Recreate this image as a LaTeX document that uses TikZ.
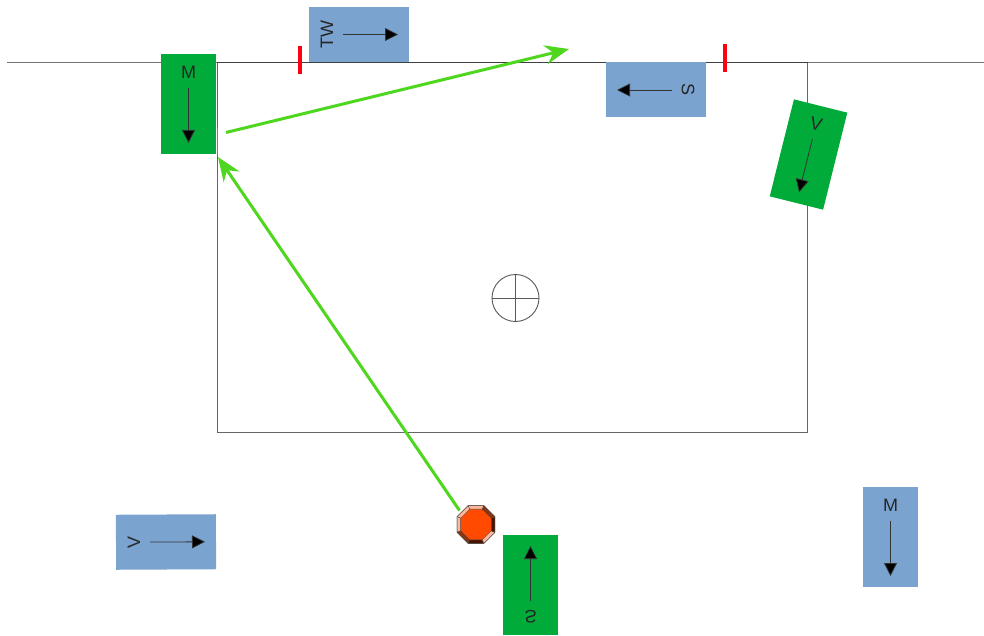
\documentclass[tikz,border=0pt]{standalone}
\usepackage{fontspec}
\setmainfont{Liberation Sans}
\usetikzlibrary{arrows.meta,shapes.geometric}
\definecolor{signgreen}{HTML}{00AB3A}
\definecolor{signblue}{HTML}{7AA3D0}
\definecolor{linegreen}{HTML}{4FD61E}
\definecolor{tickred}{HTML}{FF0010}
\definecolor{bevlight}{HTML}{FFB79C}
\definecolor{bevmid}{HTML}{8C3410}
\definecolor{bevdark}{HTML}{481400}
\definecolor{bevcore}{HTML}{FF4A00}
\tikzset{
  signbox/.style={minimum width=55pt,minimum height=100pt,inner sep=0pt,draw=none},
  signtext/.style={font=\fontsize{18pt}{20pt}\selectfont,text=black!85,inner sep=0pt},
  signarrow/.style={draw=black!80,line width=0.8pt,-{Triangle[length=13pt,width=13pt,fill=black]}},
  flow/.style={draw=linegreen,line width=3pt,-{Stealth[length=24pt,width=19pt,inset=8pt,fill=linegreen]}},
  rule/.style={line width=1pt},
  tick/.style={draw=tickred,line width=4pt},
  sight/.style={draw=black!65,line width=0.9pt},
}
% name, cx, cy, rotation, colour, label
\newcommand{\signpost}[6]{%
  \node[signbox,fill=#5,rotate=#4] (#1) at (#2,#3) {};
  \begin{scope}[shift={(#2,#3)},rotate=#4]
    \node[signtext,rotate=#4] (#1l) at (0,-32) {#6};
    \coordinate (#1a) at (0,-16);
    \coordinate (#1b) at (0,39);
  \end{scope}
  \draw[signarrow] (#1a) -- (#1b);
}
\begin{document}
\begin{tikzpicture}[x=1pt,y=-1pt]
\useasboundingbox (0,0) rectangle (984,636);
\fill[white] (0,0) rectangle (984,636);
\coordinate (lineL) at (7,63);
\coordinate (lineR) at (984,63);
\draw[rule,draw=black!55] (lineL) -- (lineR);
\node[rule,draw=black!60,minimum width=590pt,minimum height=369.5pt,inner sep=0pt] (field) at (512.5,247.7) {};
\draw[rule,draw=black!75] (field.north west) -- (field.north east);

\node[sight,circle,minimum size=47pt,inner sep=0pt] (mark) at (515.5,298) {};
\draw[sight] (mark.north) -- (mark.south);
\draw[sight] (mark.west) -- (mark.east);

\coordinate (t1a) at (300.3,46); \coordinate (t1b) at (300.3,74);
\draw[tick] (t1a) -- (t1b);
\coordinate (t2a) at (724.6,44); \coordinate (t2b) at (724.6,72);
\draw[tick] (t2a) -- (t2b);

\signpost{bTW}{359}{34.5}{90}{signblue}{TW}
\signpost{bSt}{656}{90}{-90}{signblue}{S}
\signpost{gM}{188.5}{104}{0}{signgreen}{M}
\coordinate (hiddenA) at (217.5,128);
\coordinate (hiddenB) at (217.5,154);
\draw[draw=signblue!80!black,line width=1.5pt] (hiddenA) -- (hiddenB);
\signpost{gV}{808.5}{154.5}{-14}{signgreen}{V}
\signpost{bM}{890.5}{537}{0}{signblue}{M}
\signpost{bV}{166}{542}{90.3}{signblue}{V}
\signpost{gS}{530.5}{585}{180}{signgreen}{\scalebox{-1}[1]{S}}

% octagonal marker
\node[regular polygon,regular polygon sides=8,minimum size=41pt,inner sep=0pt,fill=bevcore,draw=black!70,line width=0.5pt] (oct) at (476,524.5) {};
\begin{scope}[shift={(476,524.5)},line join=round]
  \foreach \a/\c in {90/bevlight,135/bevlight,180/bevlight,225/bevmid,270/bevdark,315/bevlight,0/bevdark,45/bevmid}{
    \fill[\c,draw=black!70,line width=0.4pt]
      ({20.4*cos(\a-22.5)},{-20.4*sin(\a-22.5)}) -- ({20.4*cos(\a+22.5)},{-20.4*sin(\a+22.5)}) --
      ({16.6*cos(\a+22.5)},{-16.6*sin(\a+22.5)}) -- ({16.6*cos(\a-22.5)},{-16.6*sin(\a-22.5)}) -- cycle;
  }
\end{scope}

\coordinate (bounce) at (218,157);
\coordinate (startB) at (226,132.5);
\coordinate (endB) at (569,49);
\draw[flow] (oct) ++(-16.5,-14) -- (bounce);
\draw[flow] (startB) -- (endB);
\end{tikzpicture}
\end{document}
